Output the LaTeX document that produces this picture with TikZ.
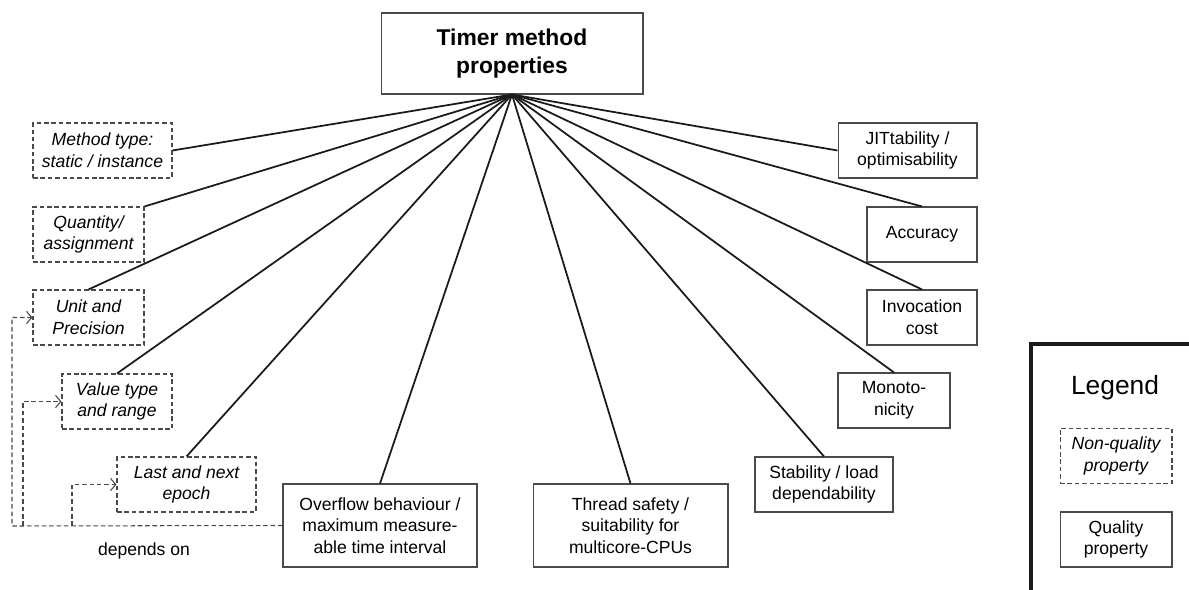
\documentclass[tikz,border=0pt]{standalone}
\usepackage{fontspec}
\setmainfont{Liberation Sans}
\usepackage{xcolor}
\usetikzlibrary{arrows.meta}
\definecolor{TMInk}{HTML}{1A1A1A}
\definecolor{TMFrame}{HTML}{4A4A4A}
\definecolor{TMDash}{HTML}{4A4A4A}

\tikzset{
  qprop/.style={draw=TMFrame,line width=0.6pt,inner sep=0pt,align=center,
    font=\fontsize{10}{12.3}\selectfont,minimum height=1.1cm},
  nqprop/.style={qprop,draw=TMDash,dash pattern=on 2.6pt off 1.6pt,
    font=\fontsize{10}{12.3}\selectfont\itshape},
  spoke/.style={draw=TMInk,line width=1pt},
  depends/.style={draw=TMDash,line width=0.6pt,dash pattern=on 2.6pt off 1.6pt,
    -{Straight Barb[length=3pt,width=7pt]}}
}

\begin{document}
\begin{tikzpicture}[x=0.02cm,y=-0.02cm]
\useasboundingbox (0,0) rectangle (1189,590);
\node[qprop,minimum width=5.24cm,minimum height=1.62cm,font=\fontsize{13}{15.9}\selectfont\bfseries] (root) at (512,53.5) {Timer method\\properties};
\node[nqprop,minimum width=2.78cm] (method) at (102.5,150.5) {Method type:\\static / instance};
\node[nqprop,minimum width=2.22cm] (quantity) at (88.5,234.5) {Quantity/\\assignment};
\node[nqprop,minimum width=2.22cm] (unit) at (88.5,317.5) {Unit and\\Precision};
\node[nqprop,minimum width=2.2cm] (value) at (117,401.5) {Value type\\and range};
\node[nqprop,minimum width=2.78cm] (epoch) at (186.5,484.5) {Last and next\\epoch};
\node[qprop,minimum width=3.88cm,minimum height=1.66cm] (overflow) at (380,525.5) {Overflow behaviour /\\maximum measure-\\able time interval};
\node[qprop,minimum width=3.9cm,minimum height=1.66cm] (thread) at (630.5,525.5) {Thread safety /\\suitability for\\multicore-CPUs};
\node[qprop,minimum width=2.76cm] (stability) at (824,484.5) {Stability / load\\dependability};
\node[qprop,minimum width=2.24cm] (monotonicity) at (894,400.5) {Monoto-\\nicity};
\node[qprop,minimum width=2.2cm] (invocation) at (922,317.5) {Invocation\\cost};
\node[qprop,minimum width=2.2cm] (accuracy) at (922,234.5) {Accuracy};
\node[qprop,minimum width=2.78cm] (jit) at (907.5,150.5) {JITtability /\\optimisability};

\path[spoke] (root.south) -- (method.east);
\path[spoke] (root.south) -- (quantity.north east);
\path[spoke] (root.south) -- (unit.north);
\path[spoke] (root.south) -- (value.north);
\path[spoke] (root.south) -- (epoch.north);
\path[spoke] (root.south) -- (overflow.north);
\path[spoke] (root.south) -- (thread.north);
\path[spoke] (root.south) -- (stability.north);
\path[spoke] (root.south) -- (monotonicity.north);
\path[spoke] (root.south) -- (invocation.north);
\path[spoke] (root.south) -- (accuracy.north);
\path[spoke] (root.south) -- (jit.west);

\coordinate (dunit) at (12,526);
\coordinate (dvalue) at (23,526);
\coordinate (depoch) at (72,526);
\draw[depends] (overflow.west) -- (dunit) |- (unit.west);
\draw[depends] (dvalue) |- (value.west);
\draw[depends] (depoch) |- (epoch.west);
\node[font=\fontsize{10}{12.3}\selectfont] (dependson) at (144,551) {depends on};

\draw[TMInk,line width=1.8pt] (1031,592) -- (1031,344) -- (1192,344);
\node[font=\fontsize{15}{18}\selectfont] (legend) at (1115,388) {Legend};
\node[nqprop,minimum width=2.24cm] (nonquality) at (1116,456) {Non-quality\\property};
\node[qprop,minimum width=2.24cm] (quality) at (1116,539.5) {Quality\\property};
\end{tikzpicture}
\end{document}
